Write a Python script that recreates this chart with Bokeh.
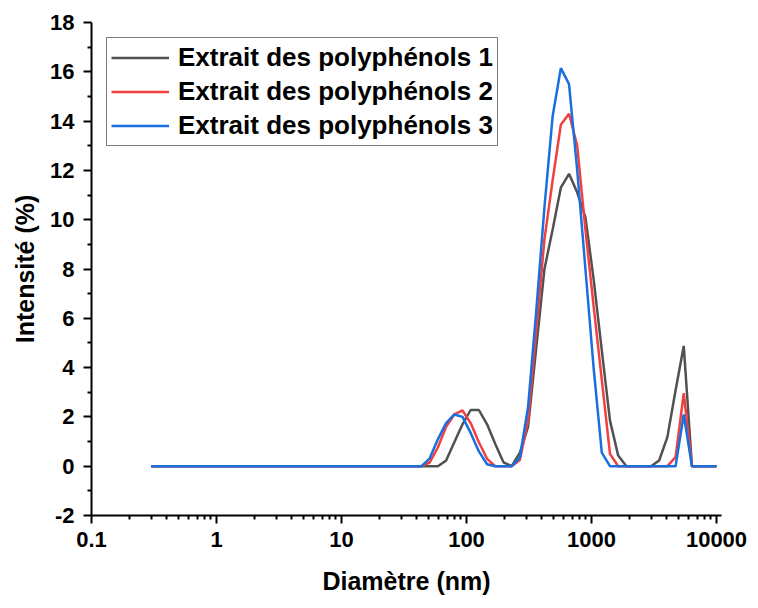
from bokeh.plotting import figure
from bokeh.models import Range1d, FixedTicker, CustomJSTickFormatter, Legend, LegendItem
from bokeh.embed import file_html
from bokeh.resources import INLINE

# ---------------- data ----------------
diameters_nm = [
    0.300, 0.349, 0.406, 0.472, 0.549, 0.638, 0.742, 0.863, 1.003, 1.167,
    1.357, 1.578, 1.835, 2.134, 2.482, 2.886, 3.357, 3.904, 4.539, 5.279,
    6.139, 7.140, 8.302, 9.656, 11.23, 13.06, 15.19, 17.66, 20.54, 23.88,
    27.77, 32.30, 37.56, 43.69, 50.80, 59.08, 68.70, 79.90, 92.90, 108.0,
    125.6, 146.1, 169.9, 197.6, 229.8, 267.3, 310.8, 361.4, 420.3, 488.8,
    568.5, 661.1, 768.8, 894.1, 1039.4, 1208.9, 1405.8, 1635.1, 1901.1, 2211.4,
    2571.5, 2990.7, 3477.6, 4044.8, 4703.1, 5470.2, 6360.5, 7396.4, 8601.3, 10000.0,
]

series_labels = [
    "Extrait des polyphénols 1",
    "Extrait des polyphénols 2",
    "Extrait des polyphénols 3",
]

intensity_1 = [
    0, 0, 0, 0, 0, 0, 0, 0, 0, 0,
    0, 0, 0, 0, 0, 0, 0, 0, 0, 0,
    0, 0, 0, 0, 0, 0, 0, 0, 0, 0,
    0, 0, 0, 0, 0, 0, 0.23, 0.97, 1.7, 2.28,
    2.28, 1.7, 0.9, 0.16, 0, 0.55, 1.6, 4.8, 8.0, 9.6,
    11.3, 11.86, 11.1, 10.1, 7.6, 4.7, 1.85, 0.43, 0, 0,
    0, 0, 0.23, 1.18, 3.07, 4.88, 0, 0, 0, 0,
]

intensity_2 = [
    0, 0, 0, 0, 0, 0, 0, 0, 0, 0,
    0, 0, 0, 0, 0, 0, 0, 0, 0, 0,
    0, 0, 0, 0, 0, 0, 0, 0, 0, 0,
    0, 0, 0, 0, 0.15, 0.77, 1.6, 2.1, 2.26, 1.75,
    0.97, 0.3, 0, 0, 0, 0.25, 1.85, 5.5, 9.2, 11.6,
    13.85, 14.3, 13.0, 9.6, 6.5, 3.5, 0.5, 0, 0, 0,
    0, 0, 0, 0, 0.37, 2.96, 0, 0, 0, 0,
]

intensity_3 = [
    0, 0, 0, 0, 0, 0, 0, 0, 0, 0,
    0, 0, 0, 0, 0, 0, 0, 0, 0, 0,
    0, 0, 0, 0, 0, 0, 0, 0, 0, 0,
    0, 0, 0, 0, 0.32, 1.1, 1.75, 2.1, 2.0, 1.35,
    0.6, 0.08, 0, 0, 0, 0.35, 2.4, 6.3, 10.5, 14.2,
    16.15, 15.5, 12.0, 8.0, 4.0, 0.55, 0, 0, 0, 0,
    0, 0, 0, 0, 0, 2.1, 0, 0, 0, 0,
]

series_colors = ["#515151", "#F14040", "#1A6FDF"]

x_major_ticks = [0.1, 1, 10, 100, 1000, 10000]
x_minor_ticks = [m * d for d in [0.1, 1, 10, 100, 1000] for m in range(2, 10)]
y_major_ticks = [-2, 0, 2, 4, 6, 8, 10, 12, 14, 16, 18]
y_minor_ticks = [-1, 1, 3, 5, 7, 9, 11, 13, 15, 17]

FONT = "Liberation Sans"

# ---------------- figure ----------------
p = figure(
    width=750, height=600,
    x_axis_type="log",
    x_range=Range1d(0.1, 10965),
    y_range=Range1d(-2, 18),
    output_backend="svg",
    toolbar_location=None,
    min_border_left=91, min_border_right=29,
    min_border_top=22, min_border_bottom=85,
)
p.outline_line_color = None
p.xgrid.visible = False
p.ygrid.visible = False
p.background_fill_color = "white"
p.border_fill_color = "white"

renderers = []
for ys, col in zip([intensity_1, intensity_2, intensity_3], series_colors):
    r = p.line(diameters_nm, ys, line_color=col, line_width=2.5)
    renderers.append(r)

p.xaxis.ticker = FixedTicker(ticks=x_major_ticks, minor_ticks=x_minor_ticks)
p.yaxis.ticker = FixedTicker(ticks=y_major_ticks, minor_ticks=y_minor_ticks)
p.xaxis.formatter = CustomJSTickFormatter(code="return tick.toString();")
p.yaxis.formatter = CustomJSTickFormatter(code="return tick.toString();")

for ax in [p.xaxis[0], p.yaxis[0]]:
    ax.axis_line_color = "black"
    ax.axis_line_width = 2
    ax.major_tick_line_color = "black"
    ax.major_tick_line_width = 2
    ax.minor_tick_line_color = "black"
    ax.minor_tick_line_width = 2
    ax.major_tick_out = 8
    ax.major_tick_in = 0
    ax.minor_tick_out = 4
    ax.minor_tick_in = 0
    ax.major_label_text_font = FONT
    ax.major_label_text_font_style = "bold"
    ax.major_label_text_font_size = "22px"
    ax.major_label_text_color = "black"
    ax.axis_label_text_font = FONT
    ax.axis_label_text_font_style = "bold"
    ax.axis_label_text_font_size = "25px"
    ax.axis_label_text_color = "black"

p.xaxis.axis_label = "Diamètre (nm)"
p.yaxis.axis_label = "Intensité (%)"
p.xaxis.major_label_standoff = 8
p.xaxis.axis_label_standoff = 17
p.yaxis.major_label_standoff = 9
p.yaxis.axis_label_standoff = 8

legend = Legend(
    items=[LegendItem(label=lab, renderers=[r]) for lab, r in zip(series_labels, renderers)],
    location="top_left",
    margin=15,
    padding=4,
    spacing=3,
    glyph_width=58,
    glyph_height=29,
    label_height=29,
    label_standoff=9,
    label_text_font=FONT,
    label_text_font_style="bold",
    label_text_font_size="26px",
    label_text_color="black",
    border_line_color="black",
    border_line_width=1,
    background_fill_color="white",
    background_fill_alpha=1.0,
)
p.add_layout(legend)

open("out.html", "w").write(file_html(p, INLINE))
